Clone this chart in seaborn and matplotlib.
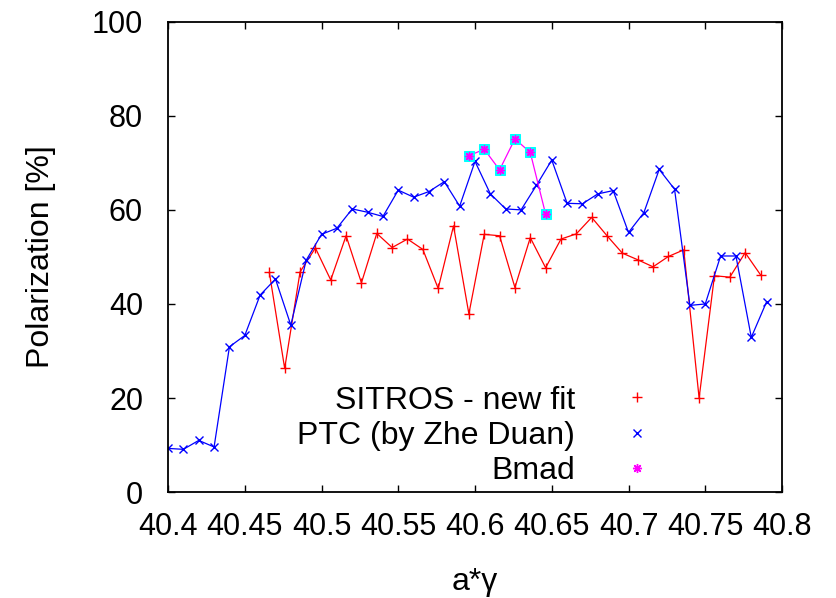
import matplotlib
matplotlib.use("Agg")
import matplotlib.pyplot as plt
from matplotlib.lines import Line2D
import seaborn as sns

# SITROS - new fit
sitros_x = [40.466, 40.476, 40.486, 40.496, 40.506, 40.516, 40.526, 40.536, 40.546,
            40.556, 40.566, 40.576, 40.586, 40.596, 40.606, 40.616, 40.626, 40.636,
            40.646, 40.656, 40.666, 40.676, 40.686, 40.696, 40.706, 40.716, 40.726,
            40.736, 40.746, 40.756, 40.766, 40.776, 40.786]
sitros_y = [46.7, 26.3, 46.8, 51.9, 45.1, 54.5, 44.5, 55.0, 52.0,
            53.8, 51.6, 43.3, 56.6, 37.9, 54.8, 54.5, 43.5, 54.1,
            47.7, 53.8, 54.9, 58.4, 54.5, 50.8, 49.4, 47.9, 50.1,
            51.5, 20.0, 46.0, 45.7, 50.9, 46.2]

# PTC (by Zhe Duan)
ptc_x = [40.40, 40.41, 40.42, 40.43, 40.44, 40.45, 40.46, 40.47, 40.48, 40.49,
         40.50, 40.51, 40.52, 40.53, 40.54, 40.55, 40.56, 40.57, 40.58, 40.59,
         40.60, 40.61, 40.62, 40.63, 40.64, 40.65, 40.66, 40.67, 40.68, 40.69,
         40.70, 40.71, 40.72, 40.73, 40.74, 40.75, 40.76, 40.77, 40.78, 40.79]
ptc_y = [9.3, 9.1, 11.0, 9.6, 30.9, 33.3, 41.9, 45.3, 35.5, 49.3,
         54.8, 56.1, 60.2, 59.5, 58.6, 64.2, 62.7, 63.9, 66.0, 60.8,
         70.3, 63.4, 60.2, 60.0, 65.2, 70.6, 61.4, 61.3, 63.4, 64.1,
         55.2, 59.4, 68.6, 64.4, 39.7, 40.0, 50.2, 50.2, 32.9, 40.5]

# Bmad
bmad_x = [40.596, 40.606, 40.616, 40.626, 40.636, 40.646]
bmad_y = [71.5, 72.9, 68.5, 75.1, 72.2, 59.1]

x_ticks = [40.4, 40.45, 40.5, 40.55, 40.6, 40.65, 40.7, 40.75, 40.8]
x_tick_labels = ["40.4", "40.45", "40.5", "40.55", "40.6", "40.65", "40.7", "40.75", "40.8"]
y_ticks = [0, 20, 40, 60, 80, 100]

sns.set_style("ticks")
plt.rcParams['font.family'] = ['Liberation Sans', 'DejaVu Sans']
plt.rcParams['text.color'] = 'black'
plt.rcParams['axes.labelcolor'] = 'black'
plt.rcParams['xtick.color'] = 'black'
plt.rcParams['ytick.color'] = 'black'

ASTERISK = (8, 2, 0)

fig = plt.figure(figsize=(8.36, 5.98), dpi=100)
ax = fig.add_axes([0.201, 0.177, 0.7344, 0.7867])

sns.lineplot(x=sitros_x, y=sitros_y, color='#ff0000', linewidth=0.9,
             marker='+', markersize=7, markeredgewidth=1.0,
             markeredgecolor='#ff0000', ax=ax)
sns.lineplot(x=ptc_x, y=ptc_y, color='#0000ff', linewidth=0.9,
             marker='x', markersize=6, markeredgewidth=1.0,
             markeredgecolor='#0000ff', ax=ax)
sns.lineplot(x=bmad_x, y=bmad_y, color='#ff00ff', linewidth=0.9,
             marker='s', markersize=6.5, markerfacecolor='#00ffff',
             markeredgecolor='#00ffff', ax=ax)
sns.scatterplot(x=bmad_x, y=bmad_y, color='#ff00ff', marker=ASTERISK,
                s=30, linewidth=1.0, edgecolor='#ff00ff', ax=ax, zorder=5)

ax.set_xlim(40.4, 40.8)
ax.set_ylim(0, 100)
ax.set_xticks(x_ticks)
ax.set_xticklabels(x_tick_labels)
ax.set_yticks(y_ticks)
ax.tick_params(axis='both', direction='in', length=5, width=1, top=True, right=True,
               labelsize=22, colors='black')
ax.tick_params(axis='x', pad=14)
ax.tick_params(axis='y', pad=18)
for s in ax.spines.values():
    s.set_linewidth(1.3)
    s.set_color('black')

ax.set_xlabel('a*γ', fontsize=23, labelpad=18)
ax.set_ylabel('Polarization [%]', fontsize=23, labelpad=26)

handles = [
    Line2D([], [], linestyle='none', marker='+', color='#ff0000', markersize=7, markeredgewidth=1.0),
    Line2D([], [], linestyle='none', marker='x', color='#0000ff', markersize=6, markeredgewidth=1.0),
    Line2D([], [], linestyle='none', marker=ASTERISK, color='#ff00ff', markersize=6.5, markeredgewidth=1.0),
]
labels = ['SITROS - new fit', 'PTC (by Zhe Duan)', 'Bmad']
ax.legend(handles, labels, loc='center right', bbox_to_anchor=(0.816, 0.12),
          markerfirst=False, frameon=False, fontsize=23, handlelength=2.0,
          handletextpad=0.95, labelspacing=0.16, borderpad=0, borderaxespad=0)

fig.savefig('out.png', dpi=100)
